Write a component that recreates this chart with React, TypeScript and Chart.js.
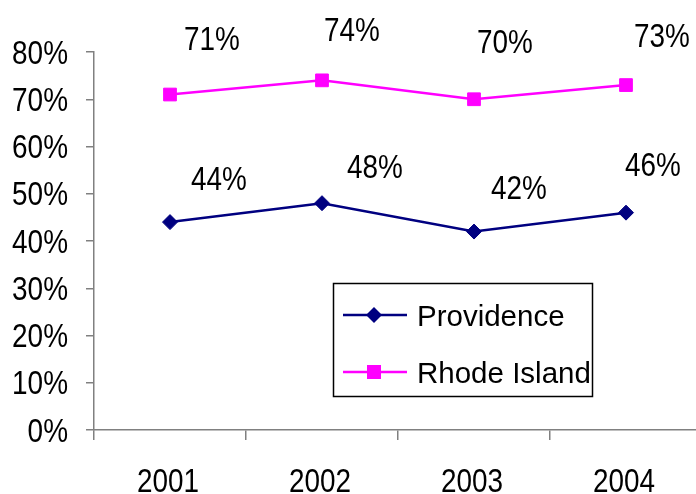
import React, { useEffect, useRef } from "react";
import { Chart, registerables } from "chart.js";

Chart.register(...registerables);

const categories = ["2001", "2002", "2003", "2004"];
const providence = [44, 48, 42, 46];
const rhodeIsland = [71, 74, 70, 73];
const seriesNames = ["Providence", "Rhode Island"];
const yMin = 0;
const yMax = 80;
const yStep = 10;

// label placement offsets (style only): [dx, dy] from each point to label centre
const providenceLabelOffsets = [[49, -44], [53, -37], [45, -45], [27, -49]];
const rhodeLabelOffsets = [[42, -57], [30, -52], [31, -58], [36, -50]];

const NAVY = "#000080";
const MAGENTA = "#FF00FF";
const AXIS = "#808080";
const FONT = "Arial, 'Liberation Sans', sans-serif";

function drawSquished(ctx: any, text: string, x: number, baseline: number, size: number, sx: number, align: string) {
  ctx.save();
  ctx.font = `${size}px ${FONT}`;
  ctx.fillStyle = "#000";
  ctx.textAlign = align;
  ctx.textBaseline = "alphabetic";
  ctx.translate(x, baseline);
  ctx.scale(sx, 1);
  ctx.fillText(text, 0, 0);
  ctx.restore();
}

const tickLabelPlugin = {
  id: "tickLabels",
  afterDraw(chart: any) {
    const ctx = chart.ctx;
    const ys = chart.scales.y;
    const xs = chart.scales.x;
    const ySize = 32.5;
    ys.ticks.forEach((t: any) => {
      const y = ys.getPixelForValue(t.value);
      drawSquished(ctx, `${t.value}%`, ys.right - 26, y + ySize * 0.358, ySize, 0.86, "right");
    });
    const xSize = 34;
    chart.data.labels.forEach((lab: string, i: number) => {
      const x = xs.getPixelForValue(i);
      drawSquished(ctx, lab, x - 2, xs.top + 61.5, xSize, 0.82, "center");
    });
  },
};

const dataLabelPlugin = {
  id: "dataLabels",
  afterDatasetsDraw(chart: any) {
    const ctx = chart.ctx;
    const offsets = [providenceLabelOffsets, rhodeLabelOffsets];
    const size = 34;
    chart.data.datasets.forEach((ds: any, di: number) => {
      const meta = chart.getDatasetMeta(di);
      meta.data.forEach((pt: any, i: number) => {
        const [dx, dy] = offsets[di][i];
        drawSquished(ctx, `${ds.data[i]}%`, pt.x + dx, pt.y + dy + size * 0.358, size, 0.82, "center");
      });
    });
  },
};

const legendPlugin = {
  id: "boxLegend",
  afterDraw(chart: any) {
    const ctx = chart.ctx;
    const bx = 333.5, by = 283.5, bw = 259, bh = 113;
    ctx.save();
    ctx.strokeStyle = "#000";
    ctx.lineWidth = 1.5;
    ctx.strokeRect(bx, by, bw, bh);
    const rows = [
      { y: 315, color: NAVY, shape: "diamond", label: seriesNames[0] },
      { y: 372, color: MAGENTA, shape: "square", label: seriesNames[1] },
    ];
    const lx1 = 343, lx2 = 407, mx = 374;
    rows.forEach((r) => {
      ctx.strokeStyle = r.color;
      ctx.lineWidth = 2.5;
      ctx.beginPath();
      ctx.moveTo(lx1, r.y);
      ctx.lineTo(lx2, r.y);
      ctx.stroke();
      ctx.fillStyle = r.color;
      ctx.beginPath();
      if (r.shape === "diamond") {
        const s = 8;
        ctx.moveTo(mx - s, r.y);
        ctx.lineTo(mx, r.y - s);
        ctx.lineTo(mx + s, r.y);
        ctx.lineTo(mx, r.y + s);
        ctx.closePath();
      } else {
        const s = 7;
        ctx.rect(mx - s, r.y - s, 2 * s, 2 * s);
      }
      ctx.fill();
      ctx.fillStyle = "#000";
      ctx.font = `29.5px ${FONT}`;
      ctx.textAlign = "left";
      ctx.textBaseline = "alphabetic";
      ctx.fillText(r.label, 417, r.y + 29.5 * 0.358);
    });
    ctx.restore();
  },
};

const CANVAS_W = 712;

export default function App() {
  const ref = useRef<HTMLCanvasElement | null>(null);

  useEffect(() => {
    if (!ref.current) return;
    const chart = new Chart(ref.current, {
      type: "line",
      data: {
        labels: categories,
        datasets: [
          {
            label: seriesNames[0],
            data: providence,
            borderColor: NAVY,
            backgroundColor: NAVY,
            borderWidth: 2.5,
            pointStyle: "rectRot",
            pointRadius: 7.5,
            pointBorderWidth: 1,
            pointBackgroundColor: NAVY,
            pointBorderColor: NAVY,
            tension: 0,
          },
          {
            label: seriesNames[1],
            data: rhodeIsland,
            borderColor: MAGENTA,
            backgroundColor: MAGENTA,
            borderWidth: 2.5,
            pointStyle: "rect",
            pointRadius: 9,
            pointBorderWidth: 1,
            pointBackgroundColor: MAGENTA,
            pointBorderColor: MAGENTA,
            tension: 0,
          },
        ],
      },
      options: {
        animation: false,
        responsive: false,
        maintainAspectRatio: false,
        devicePixelRatio: 1,
        layout: { padding: { top: 52, right: 1, left: 0, bottom: 0 } },
        plugins: {
          legend: { display: false },
          tooltip: { enabled: false },
        },
        scales: {
          x: {
            type: "category",
            offset: true,
            grid: {
              offset: true,
              drawOnChartArea: false,
              drawTicks: true,
              tickLength: 10,
              color: AXIS,
              lineWidth: 1.5,
            },
            border: { color: AXIS, width: 1.5 },
            ticks: {
              color: "rgba(0,0,0,0)",
              font: { family: FONT, size: 1 },
              padding: 0,
              maxRotation: 0,
              autoSkip: false,
            },
            afterFit: (s: any) => {
              s.height = 64;
            },
          },
          y: {
            min: yMin,
            max: yMax,
            grid: {
              drawOnChartArea: false,
              drawTicks: true,
              tickLength: 8,
              color: AXIS,
              lineWidth: 1.5,
            },
            border: { color: AXIS, width: 1.5 },
            ticks: {
              stepSize: yStep,
              color: "rgba(0,0,0,0)",
              font: { family: FONT, size: 1 },
              padding: 0,
              callback: (v: any) => `${v}%`,
            },
            afterFit: (s: any) => {
              s.width = 94;
            },
          },
        },
      },
      plugins: [tickLabelPlugin, dataLabelPlugin, legendPlugin],
    });
    return () => chart.destroy();
  }, []);

  return (
    <div style={{ position: "absolute", left: 0, top: 0, width: 696, height: 494, overflow: "hidden", background: "#fff" }}>
      <canvas ref={ref} width={CANVAS_W} height={494} style={{ display: "block", width: CANVAS_W, height: 494 }} />
    </div>
  );
}
